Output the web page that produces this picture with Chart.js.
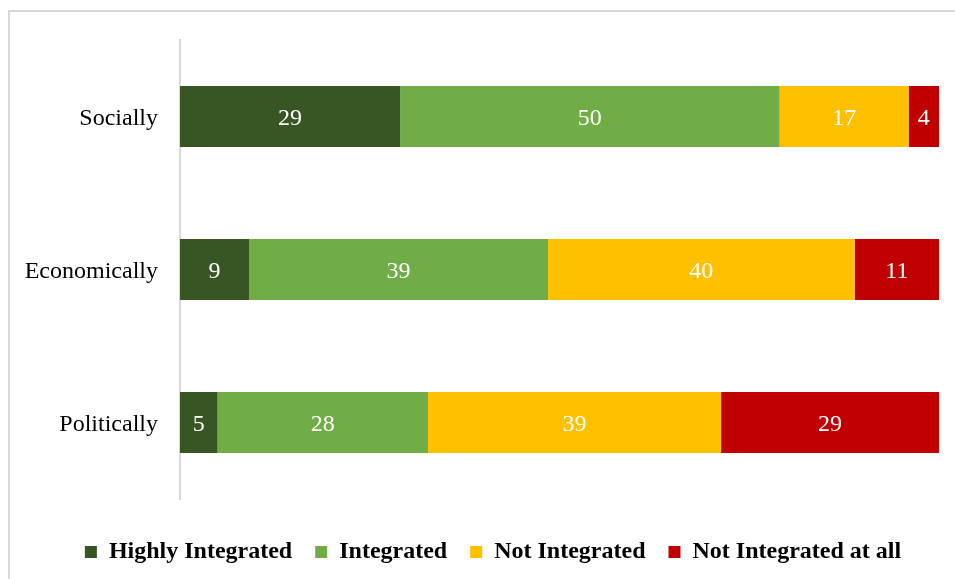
<!DOCTYPE html>
<html>
<head>
<meta charset="utf-8">
<script src="https://cdn.jsdelivr.net/npm/chart.js@4/dist/chart.umd.min.js"></script>
<style>
  html, body { margin: 0; padding: 0; background: #fff; overflow: hidden; }
  #frame { position: absolute; left: 8px; top: 10px; width: 960px; height: 580px; border: 2px solid #d9d9d9; box-sizing: border-box; }
  #myChart { position: absolute; left: 0; top: 0; }
</style>
</head>
<body>
<div id="frame"></div>
<canvas id="myChart" width="955" height="579"></canvas>
<script>
const categories = ['Socially', 'Economically', 'Politically']
const highlyIntegrated = [29, 9, 5]
const integrated = [50, 39, 28]
const notIntegrated = [17, 40, 39]
const notIntegratedAtAll = [4, 11, 29]

const serif = '"Liberation Serif", "Times New Roman", serif'

// each row fills the whole width, so plot shares of the row total
const totals = categories.map((c, i) =>
  highlyIntegrated[i] + integrated[i] + notIntegrated[i] + notIntegratedAtAll[i])
const share = arr => arr.map((v, i) => v / totals[i] * 100)

const series = [
  { label: 'Highly Integrated', values: highlyIntegrated, color: '#375623' },
  { label: 'Integrated', values: integrated, color: '#70AD47' },
  { label: 'Not Integrated', values: notIntegrated, color: '#FFC000' },
  { label: 'Not Integrated at all', values: notIntegratedAtAll, color: '#C00000' },
]

// white value labels in the middle of each segment
const barLabels = {
  id: 'barLabels',
  afterDatasetsDraw(chart) {
    const ctx = chart.ctx
    ctx.save()
    ctx.font = '24px ' + serif
    ctx.fillStyle = '#ffffff'
    ctx.textAlign = 'center'
    ctx.textBaseline = 'middle'
    chart.data.datasets.forEach((ds, d) => {
      chart.getDatasetMeta(d).data.forEach((bar, i) => {
        const p = bar.getCenterPoint()
        ctx.fillText(String(ds.rawValues[i]), p.x, p.y + 2)
      })
    })
    ctx.restore()
  }
}

// centre the legend under the bars instead of the whole canvas
const legendShift = {
  id: 'legendShift',
  afterLayout(chart) {
    chart.legend.left = 47
  }
}

const ctx = document.getElementById('myChart')
const myChart = new Chart(ctx, {
  type: 'bar',
  data: {
    labels: categories,
    datasets: series.map(s => ({
      label: s.label,
      data: share(s.values),
      rawValues: s.values,
      backgroundColor: s.color,
      borderWidth: 0,
      barPercentage: 0.4,
      categoryPercentage: 1
    }))
  },
  options: {
    indexAxis: 'y',
    responsive: false,
    animation: false,
    layout: { padding: { left: 0, right: 16, top: 40, bottom: 5 } },
    scales: {
      x: { stacked: true, min: 0, max: 100, display: false },
      y: {
        stacked: true,
        afterFit: scale => { scale.width = 180 },
        grid: { display: false, drawTicks: false },
        border: { display: true, color: '#d9d9d9', width: 2 },
        ticks: { color: '#000', padding: 22, labelOffset: 2, font: { family: serif, size: 24 } }
      }
    },
    plugins: {
      tooltip: { enabled: false },
      legend: {
        position: 'bottom',
        title: { display: true, text: '', padding: { top: 17, bottom: 0 }, font: { size: 1, lineHeight: 1 } },
        labels: {
          boxWidth: 12,
          boxHeight: 12,
          padding: 23,
          color: '#000',
          font: { family: serif, size: 24, weight: 'bold' }
        }
      }
    }
  },
  plugins: [barLabels, legendShift]
})
</script>
</body>
</html>
